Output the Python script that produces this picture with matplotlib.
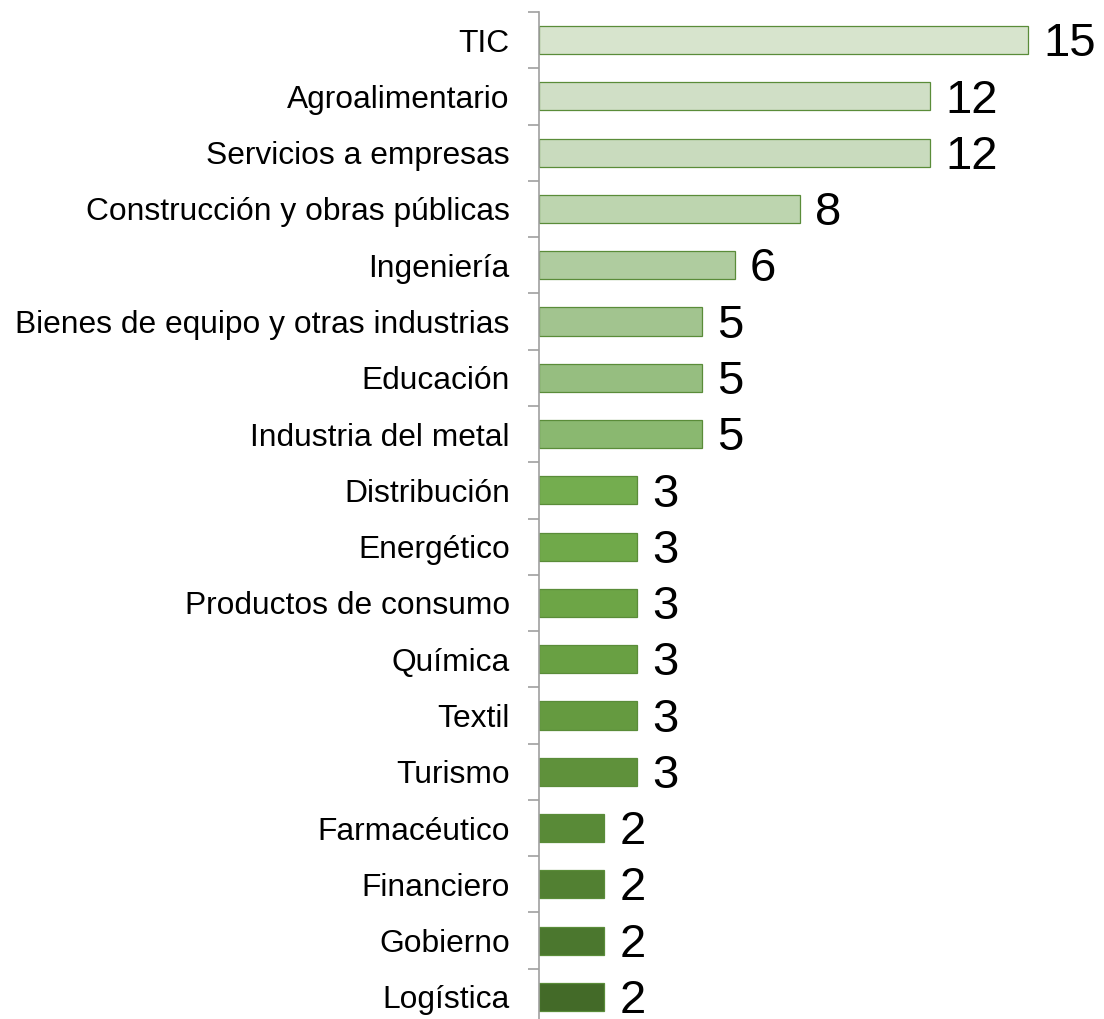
import numpy as np
import matplotlib.pyplot as plt

sectores = ['TIC', 'Agroalimentario', 'Servicios a empresas', 'Construcción y obras públicas',
            'Ingeniería', 'Bienes de equipo y otras industrias', 'Educación', 'Industria del metal',
            'Distribución', 'Energético', 'Productos de consumo', 'Química', 'Textil', 'Turismo',
            'Farmacéutico', 'Financiero', 'Gobierno', 'Logística']
empresas = [15, 12, 12, 8, 6, 5, 5, 5, 3, 3, 3, 3, 3, 3, 2, 2, 2, 2]

plt.rcParams['font.family'] = ['Liberation Sans', 'DejaVu Sans']

# green shading, light tint at the top to dark shade at the bottom
colores = ['#d7e4cd', '#d0dfc6', '#c9dbbe', '#bdd5af', '#afcc9f', '#a2c48f',
           '#96be80', '#8ab870', '#74ad4f', '#70a94a', '#6da546', '#69a043',
           '#659a40', '#5f913b', '#598a37', '#528032', '#4b772e', '#436a28']

fig = plt.figure(figsize=(11.04, 10.19), dpi=100)
ax = fig.add_axes([539 / 1104, -6 / 1019, 1 - 539 / 1104, 1013 / 1019])

y = np.arange(len(sectores))
bars = ax.barh(y, empresas, height=0.5, color=colores, edgecolor='#5a8c39', linewidth=0.9)
etiquetas = ax.bar_label(bars, labels=[str(v) for v in empresas], padding=11, fontsize=34)
for t in etiquetas:
    t.xyann = (11, -3)

ax.set_ylim(len(sectores) - 0.5, -0.5)
ax.set_xlim(0, 565 / 32.6)

ax.set_yticks(y)
ax.set_yticklabels(sectores, fontsize=22.9)
ax.tick_params(axis='y', which='major', length=0, pad=21)
ax.set_yticks(np.arange(-0.5, len(sectores)), minor=True)
ax.tick_params(axis='y', which='minor', length=8, width=1.2, color='#a0a0a0')
ax.set_xticks([])

for s in ['top', 'right', 'bottom']:
    ax.spines[s].set_visible(False)
ax.spines['left'].set_color('#a0a0a0')
ax.spines['left'].set_linewidth(1.2)

fig.savefig('out.png', dpi=100)
